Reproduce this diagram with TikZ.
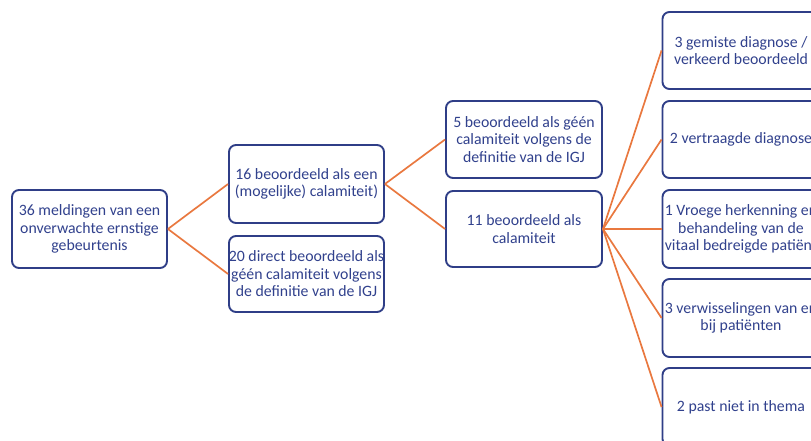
\documentclass[tikz,border=0pt]{standalone}
\usepackage{fontspec}
\setmainfont{Carlito}
\definecolor{boxblue}{HTML}{2F3E87}
\definecolor{txtblue}{HTML}{31418D}
\definecolor{linkor}{HTML}{E9783F}
\begin{document}
\begin{tikzpicture}[x=1pt,y=-1pt,
  box/.style={draw=boxblue,line width=1.9pt,rounded corners=7pt,fill=white,inner sep=0pt},
  txt/.style={text=txtblue,align=center,inner sep=0pt,font=\fontsize{15.8}{17.5}\selectfont},
  link/.style={draw=linkor,line width=1.7pt}]
\useasboundingbox (0,0) rectangle (811,441);
\clip (0,0) rectangle (811,441);
% boxes
\node[box,minimum width=155pt,minimum height=78pt] (a) at (89.5,229) {};
\node[box,minimum width=155pt,minimum height=78pt] (b) at (306.5,184) {};
\node[box,minimum width=155pt,minimum height=76pt] (c) at (306.5,274) {};
\node[box,minimum width=156pt,minimum height=77pt] (d) at (524,139.5) {};
\node[box,minimum width=156pt,minimum height=76pt] (e) at (524,229) {};
\node[box,minimum width=157pt,minimum height=77pt] (r1) at (741,50.5) {};
\node[box,minimum width=157pt,minimum height=77pt] (r2) at (741,139.5) {};
\node[box,minimum width=157pt,minimum height=78pt] (r3) at (741,229) {};
\node[box,minimum width=157pt,minimum height=78pt] (r4) at (741,318) {};
\node[box,minimum width=157pt,minimum height=78pt] (r5) at (741,407) {};
% connectors
\draw[link] (a.east) -- (b.west);
\draw[link] (a.east) -- (c.west);
\draw[link] (b.east) -- (d.west);
\draw[link] (b.east) -- (e.west);
\foreach \r in {r1,r2,r3,r4,r5} \draw[link] (e.east) -- (\r.west);
% texts
\node[txt] (ta) at (a) {36 meldingen van een\\onverwachte ernstige\\gebeurtenis};
\node[txt] (tb) at (b) {16 beoordeeld als een\\(mogelijke) calamiteit)};
\node[txt] (tc) at (c) {20 direct beoordeeld als\\géén calamiteit volgens\\de definitie van de IGJ};
\node[txt] (td) at (d) {5 beoordeeld als géén\\calamiteit volgens de\\definitie van de IGJ};
\node[txt] (te) at (e) {11 beoordeeld als\\calamiteit};
\node[txt] (t1) at (r1) {3 gemiste diagnose /\\verkeerd beoordeeld};
\node[txt] (t2) at (r2) {2 vertraagde diagnose};
\node[txt] (t3) at (r3) {1 Vroege herkenning en\\behandeling van de\\vitaal bedreigde patiënt};
\node[txt] (t4) at (r4) {3 verwisselingen van en\\bij patiënten};
\node[txt] (t5) at (r5) {2 past niet in thema};
\end{tikzpicture}
\end{document}
